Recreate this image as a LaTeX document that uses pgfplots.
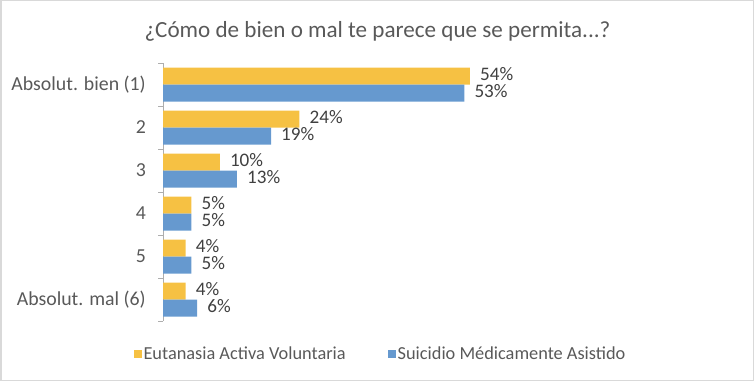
\documentclass[border=0pt]{standalone}
\usepackage{pgfplots}
\pgfplotsset{compat=1.18}
\usepackage{fontspec}
\setmainfont{Carlito}
\definecolor{eav}{RGB}{246,193,67}
\definecolor{sma}{RGB}{102,153,207}
\definecolor{lbl}{RGB}{89,89,89}
\definecolor{dlbl}{RGB}{64,64,64}
\definecolor{frm}{RGB}{217,217,217}
\begin{document}
\begin{tikzpicture}
\path[use as bounding box] (0,0) rectangle (754bp,381bp);
\draw[frm, line width=1.5bp] (0.75bp,0.75bp) rectangle (753.25bp,380.25bp);
\node[font=\fontsize{23.2}{26}\selectfont, text=lbl] at (377.5bp,350bp) {¿Cómo de bien o mal te parece que se permita...?};
\begin{axis}[
  at={(163bp,60bp)}, anchor=south west,
  scale only axis, width=568.5bp, height=258bp,
  xmin=0, xmax=100, ymin=-0.5, ymax=5.5, y dir=reverse,
  xbar, bar width=17bp,
  axis x line=none,
  axis y line*=left,
  y axis line style={draw=frm!80!black, line width=0.8bp},
  ytick={0,...,5},
  yticklabels={Absolut. bien (1),2,3,4,5,Absolut. mal (6)},
  major tick length=0pt,
  tick align=outside,
  extra y ticks={-0.5,0.5,...,5.5},
  extra y tick labels={},
  extra y tick style={major tick length=5bp, tick style={draw=frm!80!black, line width=0.8bp}},
  yticklabel style={font=\fontsize{19.9}{23}\selectfont, text=lbl, inner sep=0pt, xshift=-17bp},
  /pgf/number format/assume math mode=true,
  nodes near coords={\pgfmathprintnumber{\pgfplotspointmeta}\%},
  nodes near coords style={font=\fontsize{19.2}{23}\selectfont, text=dlbl, inner sep=0pt,
    text height=1.35ex, text depth=0pt, anchor=west, xshift=10bp, yshift=-1bp},
  legend columns=2,
  legend style={at={(0.3826,-0.128)}, anchor=center, draw=none, fill=none,
    font=\fontsize{18.4}{22}\selectfont, text=lbl,
    /tikz/every even column/.append style={column sep=40bp}},
  legend image code/.code={\path[#1,draw=none] (0bp,-4bp) rectangle (8bp,4bp);},
]
\addplot[fill=eav, draw=none, bar shift=8.5bp] coordinates {(54,0) (24,1) (10,2) (5,3) (4,4) (4,5)};
\addplot[fill=sma, draw=none, bar shift=-8.5bp] coordinates {(53,0) (19,1) (13,2) (5,3) (5,4) (6,5)};
\legend{Eutanasia Activa Voluntaria, Suicidio Médicamente Asistido}
\end{axis}
\end{tikzpicture}
\end{document}
